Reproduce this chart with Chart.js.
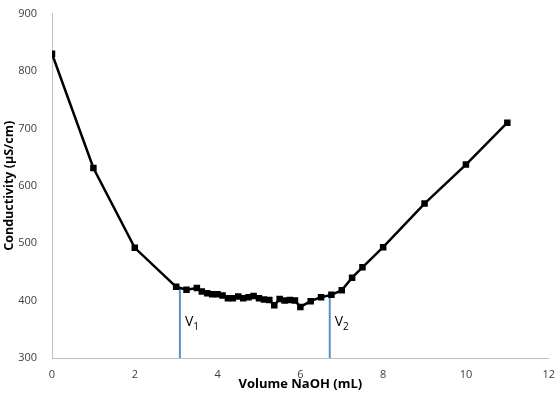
<!DOCTYPE html>
<html>
<head>
<meta charset="utf-8">
<script src="https://cdn.jsdelivr.net/npm/chart.js@4.4.0/dist/chart.umd.min.js"></script>
<style>
  html, body { margin: 0; padding: 0; background: #fff; }
  #wrap { width: 557px; height: 396px; }
</style>
</head>
<body>
<div id="wrap"><canvas id="conductivityChart"></canvas></div>
<script>
// titration readings
const volumes = [0, 1, 2, 3, 3.25, 3.5, 3.62, 3.75, 3.87, 4, 4.12, 4.25, 4.37, 4.5, 4.62, 4.75, 4.87, 5,
  5.12, 5.25, 5.37, 5.5, 5.62, 5.75, 5.87, 6, 6.25, 6.5, 6.75, 7, 7.25, 7.5, 8, 9, 10, 11];
const conductivity = [830, 631, 492, 424, 419, 422, 416, 413, 411, 411, 409, 404, 404, 407, 404, 406, 408, 404,
  402, 401, 392, 403, 400, 401, 400, 389, 399, 406, 410, 418, 440, 458, 493, 569, 637, 710];

// equivalence points
const eqLabels = ['1', '2'];
const eqVolumes = [3.09, 6.71];
const eqTops = [422, 410];

const xTicks = [0, 2, 4, 6, 8, 10, 12];
const yTicks = [300, 400, 500, 600, 700, 800, 900];

const fontFamily = '"Open Sans", sans-serif';

const eqLines = eqVolumes.map((v, i) => ({
  data: [{ x: v, y: yTicks[0] }, { x: v, y: eqTops[i] }],
  borderColor: '#5b8fc9',
  borderWidth: 2,
  pointRadius: 0,
  order: 2
}));

// V1 / V2 labels with subscripts
const eqLabelPlugin = {
  id: 'eqLabels',
  afterDatasetsDraw(chart) {
    const { ctx, scales } = chart;
    ctx.save();
    ctx.fillStyle = '#000';
    ctx.textBaseline = 'alphabetic';
    eqVolumes.forEach((v, i) => {
      const x = scales.x.getPixelForValue(v) + 5;
      const y = scales.y.getPixelForValue(355);
      ctx.font = '14px ' + fontFamily;
      ctx.fillText('V', x, y);
      const w = ctx.measureText('V').width;
      ctx.font = '10px ' + fontFamily;
      ctx.fillText(eqLabels[i], x + w, y + 4);
    });
    ctx.restore();
  }
};

new Chart(document.getElementById('conductivityChart'), {
  type: 'line',
  data: {
    datasets: [{
      data: volumes.map((v, i) => ({ x: v, y: conductivity[i] })),
      borderColor: '#000',
      backgroundColor: '#000',
      borderWidth: 2.5,
      pointStyle: 'rect',
      pointRadius: 4.6,
      pointBorderWidth: 0,
      pointHoverRadius: 4.6,
      tension: 0,
      order: 1
    }, ...eqLines]
  },
  options: {
    responsive: true,
    maintainAspectRatio: false,
    animation: false,
    layout: { padding: { top: 6, right: 8, left: 0, bottom: 4 } },
    plugins: { legend: { display: false }, tooltip: { enabled: false } },
    scales: {
      x: {
        type: 'linear',
        min: 0,
        max: 12,
        afterBuildTicks: s => { s.ticks = xTicks.map(v => ({ value: v })); },
        afterFit: s => { s.height = 34; },
        grid: { display: false },
        border: { display: true, color: '#bfbfbf', width: 1 },
        ticks: { color: '#404040', font: { family: fontFamily, size: 11 }, padding: 2 },
        title: {
          display: true,
          text: 'Volume NaOH (mL)',
          color: '#000',
          font: { family: fontFamily, size: 13, weight: 'bold' },
          padding: { top: 0, bottom: 0 }
        }
      },
      y: {
        min: 300,
        max: 900,
        afterBuildTicks: s => { s.ticks = yTicks.map(v => ({ value: v })); },
        afterFit: s => { s.width = 52; },
        grid: { display: false },
        border: { display: true, color: '#bfbfbf', width: 1 },
        ticks: { color: '#404040', font: { family: fontFamily, size: 11 }, padding: 7 },
        title: {
          display: true,
          text: 'Conductivity (µS/cm)',
          color: '#000',
          font: { family: fontFamily, size: 12.5, weight: 'bold' },
          padding: { top: 2, bottom: 4 }
        }
      }
    }
  },
  plugins: [eqLabelPlugin]
});
</script>
</body>
</html>
